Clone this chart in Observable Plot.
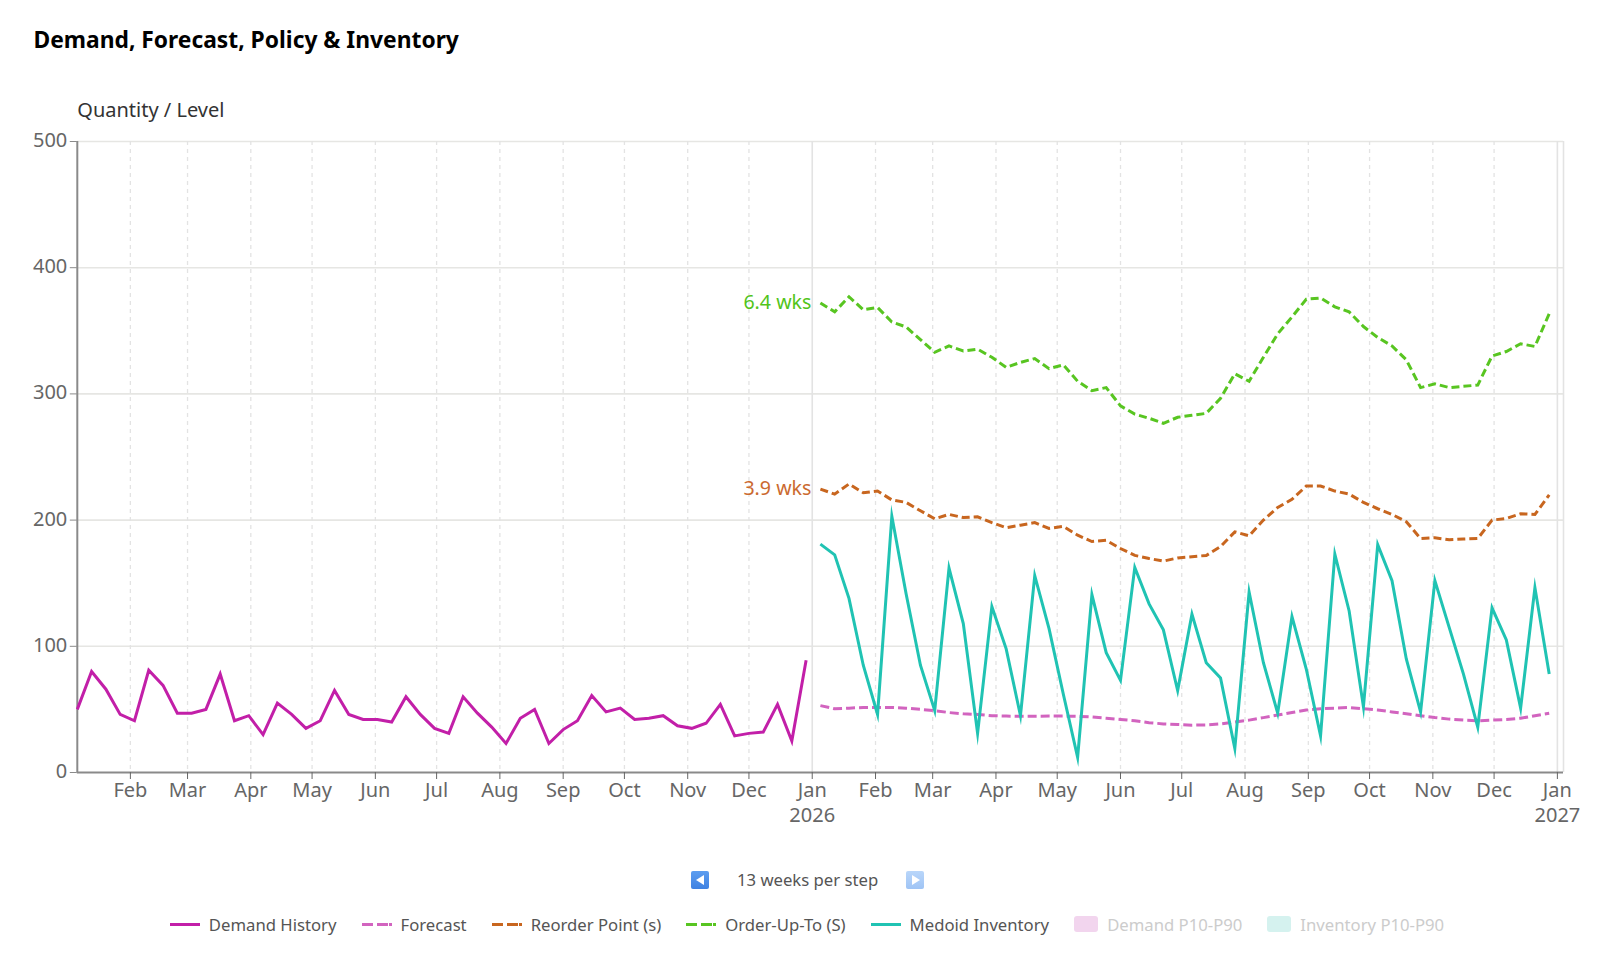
<!DOCTYPE html>
<html>
<head>
<meta charset="utf-8">
<script src="https://cdn.jsdelivr.net/npm/d3@7"></script>
<script src="https://cdn.jsdelivr.net/npm/@observablehq/plot@0.6"></script>
<style>
  html, body { margin: 0; background: #fff; font-family: "Noto Sans", sans-serif; }
  #page { position: relative; width: 1600px; height: 973px; overflow: hidden; }
  #title { height: 60px; box-sizing: border-box; padding: 24px 0 0 33.5px; font-size: 22.8px; line-height: 32px; font-weight: 700; color: #000; }
  #chart svg { display: block; }
  #pager { position: absolute; top: 871px; left: 691px; width: 233px; height: 18px; }
  #pager .btn { position: absolute; top: 0; width: 18px; height: 18px; border-radius: 2px; }
  #pager .prev { left: 0; background: linear-gradient(#5b9df0, #3f82e2); }
  #pager .next { right: 0; background: linear-gradient(#b9d6fa, #9fc4f5); }
  #pager .tri { position: absolute; top: 4px; width: 0; height: 0; border-top: 5px solid transparent; border-bottom: 5px solid transparent; }
  #pager .prev .tri { left: 5px; border-right: 8px solid #fff; }
  #pager .next .tri { left: 6px; border-left: 8px solid #fff; }
  #pager .txt { position: absolute; left: 46px; top: -4px; line-height: 26px; font-size: 16.7px; color: #555; white-space: nowrap; }
  #legend { position: absolute; top: 911px; left: 7px; width: 1600px; height: 26px; display: flex; justify-content: center; align-items: center; gap: 25px; font-size: 16.7px; color: #555; white-space: nowrap; }
  #legend .item { display: flex; align-items: center; gap: 9px; }
  #legend .key { width: 30px; height: 3px; }
  #legend .swatch { width: 24px; height: 16px; border-radius: 3px; }
  #legend .off { color: #ccc; }
</style>
</head>
<body>
<div id="page">
  <div id="title">Demand, Forecast, Policy &amp; Inventory</div>
  <div id="chart"></div>
  <div id="pager">
    <div class="btn prev"><div class="tri"></div></div>
    <div class="txt">13 weeks per step</div>
    <div class="btn next"><div class="tri"></div></div>
  </div>
  <div id="legend"></div>
</div>
<script>
const historyStart = "2025-01-06";
const planStart = "2026-01-05";
const domainEnd = "2027-01-04";

const demandHistory = [50,80,66,46,41,81,69,47,47,50,78,41,45,30,55,46,35,41,65,46,42,42,40,60,46,35,31,60,47,36,23,43,50,23,34,41,61,48,51,42,43,45,37,35,39,54,29,31,32,54,25,89];
const forecast = [53,50.5,51,51.5,51.5,51.5,51,50,49,47.5,46.5,46,45,44.7,44.5,44.6,44.7,44.7,44.5,44,43,42,41,39.5,38.5,38,37.5,37.7,38.5,40,41.5,43.5,45.5,47.5,49.5,50.5,51,51.5,50.5,49.5,48,46.5,45,43.5,42.3,41.5,41,41.5,42,43,45,47];
const reorderPoint = [224.6,220.6,228.6,221.7,223,216,214,207.4,201,204.5,202,202.6,198,194,196,198,193.4,195,188,183,184,177.5,172,169.6,167.5,170,171,172,179,190.7,187.6,200,210,216.4,227,227,223,220.6,214,209,204.5,198.7,185.4,186,184.4,185,185.4,200,201.3,205,204.5,220];
const orderUpTo = [372,365,377,366.7,368.5,357,353,343,333,338,334,335.5,329,321,325,328,320,323,310,302.6,305,290.5,284,280.7,276.7,281.5,283,284.6,296.5,316,310,329,347.6,361,375,376,369,365,353.4,344.7,338,327,305,308,305,306,307,330,333.6,339.7,337.6,363.5];
const medoidInventory = [181,172.5,138,85,46,203,141.5,85,49,162,118,31,131.5,98,45,156,114,62,12,141,95,73,162.5,133.6,113,65,125.5,87,75,19,143,87,47,123.5,82,29,173,128,52,180.5,152,90,48,152,115,78,36,130.5,105,51,146.5,78];

const yTicks = [0,100,200,300,400,500];
const monthTicks = ["2025-02-01","2025-03-01","2025-04-01","2025-05-01","2025-06-01","2025-07-01","2025-08-01","2025-09-01","2025-10-01","2025-11-01","2025-12-01","2026-01-01","2026-02-01","2026-03-01","2026-04-01","2026-05-01","2026-06-01","2026-07-01","2026-08-01","2026-09-01","2026-10-01","2026-11-01","2026-12-01","2027-01-01"];
const monthNames = ["Jan","Feb","Mar","Apr","May","Jun","Jul","Aug","Sep","Oct","Nov","Dec"];
const policyLabels = ["6.4 wks","3.9 wks"];

const colors = {demand:"#c21fa8", forecast:"#d264bf", reorder:"#c8661f", orderUpTo:"#58c521", inventory:"#20c3b3", s:"#52c41a", r:"#cb6a30"};
const lineStyle = {x: "date", y: "value", strokeWidth: 3, strokeLinejoin: "miter", strokeMiterlimit: 10, strokeLinecap: "butt"};
const dash = "8,4";

const d = s => new Date(s + "T00:00:00Z");
const DAY = 864e5, WEEK = 7 * DAY;
const weekly = (start, values) => values.map((v, i) => ({date: new Date(+d(start) + i * WEEK), value: v}));
const months = monthTicks.map(d);
const solidMonths = months.filter(t => t.getUTCMonth() === 0);
const dashedMonths = months.filter(t => t.getUTCMonth() !== 0);
const font = '"Noto Sans", sans-serif';

const plot = Plot.plot({
  width: 1600,
  height: 789.5,
  marginLeft: 76.8,
  marginRight: 37,
  marginTop: 81,
  marginBottom: 77.5,
  style: {fontFamily: font, fontSize: "20px", background: "#fff", overflow: "visible"},
  x: {type: "utc", domain: [d(historyStart), d(domainEnd)]},
  y: {domain: [0, 500]},
  marks: [
    Plot.ruleY(yTicks.filter(v => v > 0), {stroke: "#e6e6e3", strokeWidth: 1.6}),
    Plot.ruleX(dashedMonths, {stroke: "#e3e3e3", strokeWidth: 1.3, strokeDasharray: "4,4"}),
    Plot.ruleX(solidMonths, {stroke: "#e3e3e3", strokeWidth: 1.6}),
    Plot.ruleX([d(domainEnd)], {stroke: "#e3e3e3", strokeWidth: 1.6}),
    Plot.ruleY([0], {stroke: "#8a8a8a", strokeWidth: 2}),
    Plot.ruleX([d(historyStart)], {stroke: "#8a8a8a", strokeWidth: 2}),
    Plot.axisY({ticks: yTicks, tickSize: 7, label: null, stroke: "#8a8a8a", fill: "none"}),
    Plot.axisY({ticks: yTicks, tickSize: 0, tickPadding: 10, dy: -1, label: null, fill: "#666", stroke: "none", tickFormat: v => String(v)}),
    Plot.axisX({ticks: months, tickSize: 7, tickPadding: 3.5, label: null, color: "#666",
      tickFormat: t => monthNames[t.getUTCMonth()]}),
    Plot.text(solidMonths, {x: t => t, y: () => 0, text: t => String(t.getUTCFullYear()), dy: 43.5, fill: "#666"}),
    Plot.line(weekly(historyStart, demandHistory), {...lineStyle, stroke: colors.demand}),
    Plot.line(weekly(planStart, forecast), {...lineStyle, stroke: colors.forecast, strokeDasharray: "9,4"}),
    Plot.line(weekly(planStart, reorderPoint), {...lineStyle, stroke: colors.reorder, strokeDasharray: dash}),
    Plot.line(weekly(planStart, orderUpTo), {...lineStyle, stroke: colors.orderUpTo, strokeDasharray: dash}),
    Plot.line(weekly(planStart, medoidInventory), {...lineStyle, stroke: colors.inventory}),
    Plot.text([{x: d(planStart), y: orderUpTo[0], t: policyLabels[0]}], {x: "x", y: "y", text: "t", textAnchor: "end", dx: -9, dy: 0, fill: colors.s, fontSize: 19.6}),
    Plot.text([{x: d(planStart), y: reorderPoint[0], t: policyLabels[1]}], {x: "x", y: "y", text: "t", textAnchor: "end", dx: -9, dy: 0, fill: colors.r, fontSize: 19.6}),
    Plot.text([{x: d(historyStart), y: 500, t: "Quantity / Level"}], {x: "x", y: "y", text: "t", textAnchor: "start", dx: 0, dy: -31, fill: "#333", fontSize: 20})
  ]
});
document.getElementById("chart").appendChild(plot);

const legendItems = [
  {label: "Demand History", color: colors.demand, kind: "solid"},
  {label: "Forecast", color: colors.forecast, kind: "dash"},
  {label: "Reorder Point (s)", color: colors.reorder, kind: "dash"},
  {label: "Order-Up-To (S)", color: colors.orderUpTo, kind: "dash"},
  {label: "Medoid Inventory", color: colors.inventory, kind: "solid"},
  {label: "Demand P10-P90", color: "#f2d5ee", kind: "area"},
  {label: "Inventory P10-P90", color: "#d5f2ef", kind: "area"}
];
const legend = document.getElementById("legend");
for (const it of legendItems) {
  const item = document.createElement("div");
  item.className = "item";
  const key = document.createElement("div");
  if (it.kind === "area") { key.className = "swatch"; key.style.background = it.color; }
  else {
    key.className = "key";
    key.style.background = it.kind === "solid" ? it.color
      : `linear-gradient(90deg, ${it.color} 0 11px, transparent 11px 15px, ${it.color} 15px 26px, transparent 26px 27px, ${it.color} 27px 30px)`;
  }
  const txt = document.createElement("span");
  txt.textContent = it.label;
  if (it.kind === "area") txt.className = "off";
  item.append(key, txt);
  legend.appendChild(item);
}
</script>
</body>
</html>
